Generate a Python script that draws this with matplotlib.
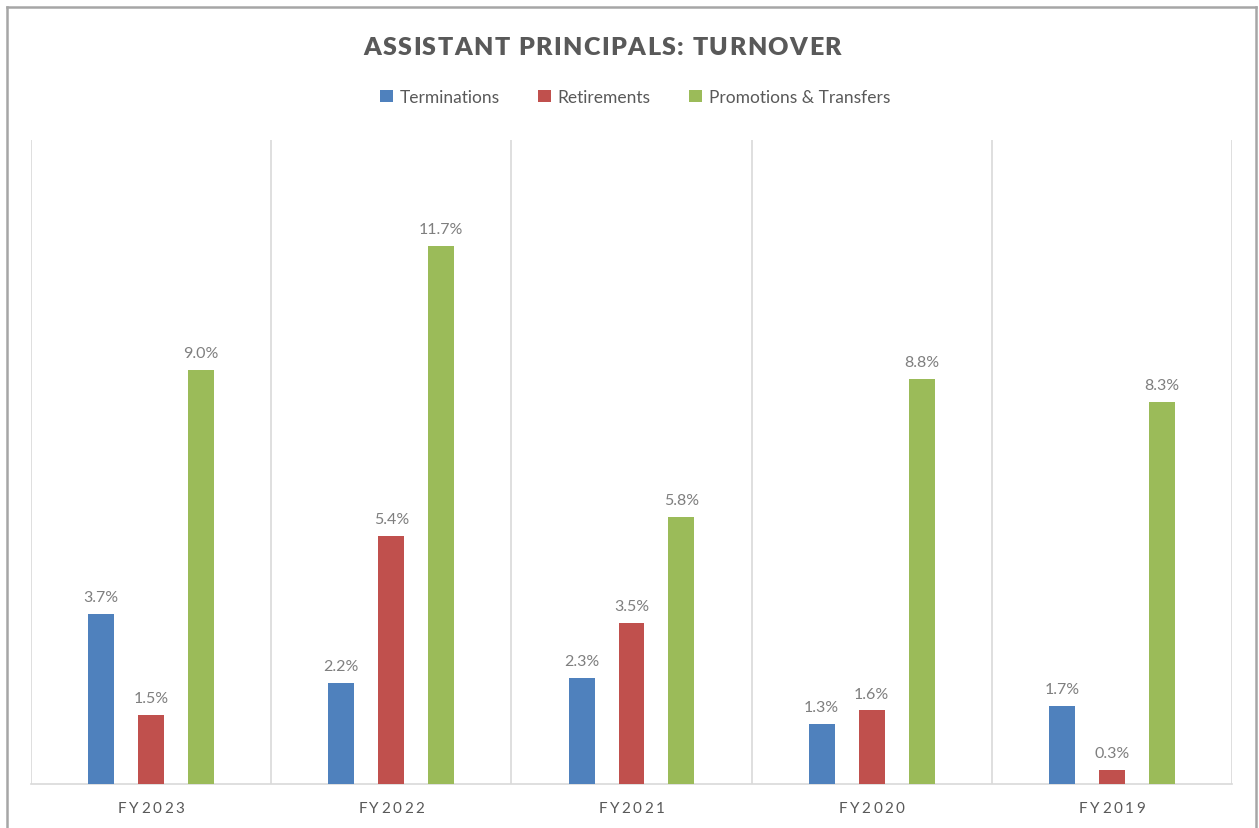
import numpy as np
import matplotlib.pyplot as plt
from matplotlib.lines import Line2D
from matplotlib.patches import Patch

# --- Data ---
years = ["FY2023", "FY2022", "FY2021", "FY2020", "FY2019"]
terminations = [3.7, 2.2, 2.3, 1.3, 1.7]
retirements = [1.5, 5.4, 3.5, 1.6, 0.3]
promotions = [9.0, 11.7, 5.8, 8.8, 8.3]
series_names = ["Terminations", "Retirements", "Promotions & Transfers"]

# --- Style ---
COLORS = ["#4f81bd", "#c0504d", "#9bbb59"]
TEXT = "#595959"
LABEL = "#7f7f7f"
GRID = "#d9d9d9"
FONT = "Lato"
W, H = 1259, 829

plt.rcParams["font.family"] = [FONT, "DejaVu Sans"]

fig = plt.figure(figsize=(W / 100, H / 100), dpi=100)
ax = fig.add_axes([31 / W, 1 - 785 / H, (1232 - 31) / W, (785 - 141) / H])

x = np.arange(len(years))
offsets = [-0.208, 0.0, 0.208]
bar_w = 0.108
for vals, off, col, name in zip([terminations, retirements, promotions], offsets, COLORS, series_names):
    bars = ax.bar(x + off, vals, width=bar_w, color=col, label=name, zorder=3)
    for b, v in zip(bars, vals):
        ax.annotate(f"{v:.1f}%", (b.get_x() + b.get_width() / 2, v),
                    xytext=(0, 7), textcoords="offset points",
                    ha="center", va="bottom", fontsize=11.5, color=LABEL)

ax.set_xlim(-0.5, len(years) - 0.5)
ax.set_ylim(0, 14)
ax.set_yticks([])
ax.set_xticks([])
ax.set_xticks(np.arange(len(years) + 1) - 0.5, minor=True)
ax.tick_params(which="both", length=0)
ax.grid(True, which="minor", axis="x", color=GRID, linewidth=1.2, zorder=0)
for side in ["top", "left", "right"]:
    ax.spines[side].set_visible(False)
ax.spines["bottom"].set_color(GRID)
ax.spines["bottom"].set_linewidth(1.2)

fig.canvas.draw()
renderer = fig.canvas.get_renderer()


def advance(ch, **kw):
    # horizontal advance of one character, spaces included
    def width(s):
        t = fig.text(0, 0, s, **kw)
        w = t.get_window_extent(renderer).width
        t.remove()
        return w
    return width("|" + ch + "|") - width("||")


def spaced_text(s, cx, y, total_w, **kw):
    # draw text with letter spacing so it spans total_w pixels, centred on cx
    adv = [advance(c, **kw) for c in s]
    gap = (total_w - sum(adv)) / (len(s) - 1)
    px = cx - total_w / 2
    for c, a in zip(s, adv):
        fig.text(px / W, 1 - y / H, c, ha="left", va="baseline", **kw)
        px += a + gap


spaced_text("ASSISTANT PRINCIPALS: TURNOVER", 602, 55, 478,
            fontsize=18, fontweight="heavy", color=TEXT)

for i, yr in enumerate(years):
    cx = ax.transData.transform((i, 0))[0]
    spaced_text(yr, cx, 813, 66, fontsize=11, color=TEXT)

handles = [Patch(facecolor=c, edgecolor="none") for c in COLORS]
leg = fig.legend(handles, series_names, loc="center", bbox_to_anchor=(635 / W, 1 - 98 / H),
                 ncol=3, frameon=False, fontsize=12.5, handlelength=0.75, handleheight=0.75,
                 handletextpad=0.4, columnspacing=2.2)
for t in leg.get_texts():
    t.set_color(TEXT)

# chart border
bx0, bx1, by = 6.5 / W, 1255.5 / W, 1 - 7.5 / H
for xs, ys in [([bx0, bx0], [-0.01, by]), ([bx0, bx1], [by, by]), ([bx1, bx1], [by, -0.01])]:
    fig.add_artist(Line2D(xs, ys, color="#a6a6a6", linewidth=1.8, transform=fig.transFigure))

fig.savefig("out.png", dpi=100)
